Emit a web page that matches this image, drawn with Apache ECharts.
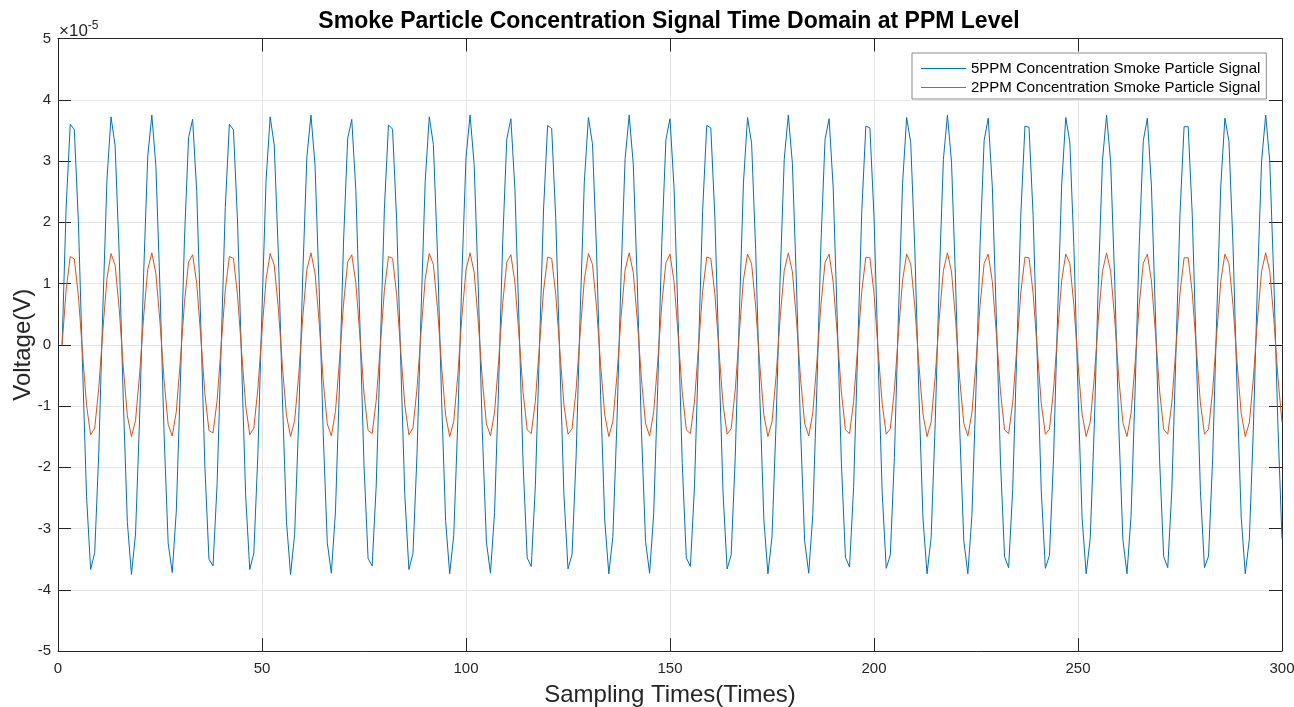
<!DOCTYPE html>
<html>
<head>
<meta charset="utf-8">
<script src="https://cdn.jsdelivr.net/npm/echarts@6/dist/echarts.min.js"></script>
<style>
  html, body { margin: 0; padding: 0; background: #ffffff; }
  #chart { width: 1294px; height: 707px; }
</style>
</head>
<body>
<div id="chart"></div>
<script>
// Sampled smoke-particle signals, samples 1..300, voltage in units of 1e-5 V
const voltage5ppm = [
  0, 2.25, 3.60, 3.51, 2.01, -0.30, -2.48, -3.67, -3.39, -1.75, 0.60, 2.70, 3.72, 3.25, 1.48, -0.89, -2.90, -3.75, -3.09, -1.20, 1.18, 3.08, 3.75, 2.91, 0.91, -1.46, -3.24, -3.72, -2.71, -0.62, 1.73, 3.38, 3.68, 2.50, 0.32, -1.99, -3.50, -3.61, -2.27,
  -0.02, 2.24, 3.60, 3.51, 2.02, -0.28, -2.47, -3.67, -3.40, -1.77, 0.58, 2.69, 3.72, 3.26, 1.50, -0.87, -2.89, -3.75, -3.10, -1.22, 1.16, 3.07, 3.75, 2.93, 0.93, -1.44, -3.23, -3.73, -2.73, -0.64, 1.71, 3.37, 3.68, 2.52, 0.34, -1.97, -3.49, -3.61, -2.29,
  -0.04, 2.22, 3.59, 3.52, 2.04, -0.26, -2.45, -3.67, -3.41, -1.78, 0.56, 2.67, 3.72, 3.27, 1.51, -0.85, -2.87, -3.74, -3.11, -1.24, 1.14, 3.06, 3.75, 2.94, 0.95, -1.42, -3.22, -3.73, -2.74, -0.66, 1.69, 3.36, 3.69, 2.53, 0.36, -1.95, -3.48, -3.62, -2.30,
  -0.06, 2.20, 3.58, 3.53, 2.06, -0.24, -2.44, -3.66, -3.42, -1.80, 0.54, 2.66, 3.71, 3.28, 1.53, -0.83, -2.86, -3.74, -3.13, -1.26, 1.12, 3.04, 3.75, 2.95, 0.97, -1.40, -3.21, -3.73, -2.76, -0.68, 1.67, 3.35, 3.69, 2.55, 0.38, -1.94, -3.48, -3.62, -2.32,
  -0.08, 2.19, 3.58, 3.54, 2.08, -0.22, -2.42, -3.66, -3.43, -1.82, 0.51, 2.64, 3.71, 3.29, 1.55, -0.81, -2.85, -3.74, -3.14, -1.28, 1.10, 3.03, 3.75, 2.96, 0.99, -1.38, -3.20, -3.73, -2.77, -0.70, 1.66, 3.35, 3.69, 2.56, 0.40, -1.92, -3.47, -3.63, -2.33,
  -0.10, 2.17, 3.57, 3.54, 2.09, -0.20, -2.41, -3.65, -3.43, -1.84, 0.49, 2.63, 3.71, 3.30, 1.57, -0.79, -2.83, -3.74, -3.15, -1.29, 1.08, 3.02, 3.75, 2.98, 1.01, -1.36, -3.19, -3.74, -2.79, -0.72, 1.64, 3.34, 3.70, 2.58, 0.42, -1.90, -3.46, -3.64, -2.35,
  -0.12, 2.15, 3.57, 3.55, 2.11, -0.18, -2.39, -3.65, -3.44, -1.86, 0.47, 2.61, 3.71, 3.31, 1.59, -0.77, -2.82, -3.74, -3.16, -1.31, 1.06, 3.01, 3.75, 2.99, 1.03, -1.34, -3.18, -3.74, -2.80, -0.74, 1.62, 3.33, 3.70, 2.59, 0.44, -1.88, -3.46, -3.64, -2.37,
  -0.14, 2.14, 3.56, 3.56, 2.13, -0.16, -2.38, -3.64, -3.45, -1.87, 0.45, 2.60, 3.70, 3.32, 1.61, -0.75, -2.81, -3.74, -3.17, -1.33, 1.04, 3.00, 3.75, 3.00, 1.05, -1.32, -3.17
];

const voltage2ppm = [
  0, 0.90, 1.44, 1.40, 0.80, -0.12, -0.99, -1.47, -1.36, -0.70, 0.24, 1.08, 1.49, 1.30, 0.59, -0.36, -1.16, -1.50, -1.24, -0.48, 0.47, 1.23, 1.50, 1.16, 0.36, -0.58, -1.30, -1.49, -1.09, -0.25, 0.69, 1.35, 1.47, 1.00, 0.13, -0.80, -1.40, -1.44, -0.91,
  -0.01, 0.89, 1.44, 1.41, 0.81, -0.11, -0.99, -1.47, -1.36, -0.71, 0.23, 1.07, 1.49, 1.30, 0.60, -0.35, -1.15, -1.50, -1.24, -0.49, 0.46, 1.23, 1.50, 1.17, 0.37, -0.58, -1.29, -1.49, -1.09, -0.25, 0.68, 1.35, 1.47, 1.01, 0.14, -0.79, -1.40, -1.45, -0.91,
  -0.02, 0.89, 1.44, 1.41, 0.82, -0.10, -0.98, -1.47, -1.36, -0.71, 0.22, 1.07, 1.49, 1.31, 0.61, -0.34, -1.15, -1.50, -1.25, -0.49, 0.46, 1.22, 1.50, 1.18, 0.38, -0.57, -1.29, -1.49, -1.10, -0.26, 0.68, 1.35, 1.47, 1.01, 0.14, -0.78, -1.39, -1.45, -0.92,
  -0.02, 0.88, 1.43, 1.41, 0.82, -0.09, -0.98, -1.46, -1.37, -0.72, 0.21, 1.06, 1.49, 1.31, 0.61, -0.33, -1.14, -1.50, -1.25, -0.50, 0.45, 1.22, 1.50, 1.18, 0.39, -0.56, -1.28, -1.49, -1.10, -0.27, 0.67, 1.34, 1.48, 1.02, 0.15, -0.77, -1.39, -1.45, -0.93,
  -0.03, 0.87, 1.43, 1.41, 0.83, -0.09, -0.97, -1.46, -1.37, -0.73, 0.21, 1.06, 1.48, 1.32, 0.62, -0.32, -1.14, -1.50, -1.26, -0.51, 0.44, 1.21, 1.50, 1.19, 0.40, -0.55, -1.28, -1.49, -1.11, -0.28, 0.66, 1.34, 1.48, 1.02, 0.16, -0.77, -1.39, -1.45, -0.93,
  -0.04, 0.87, 1.43, 1.42, 0.84, -0.08, -0.96, -1.46, -1.37, -0.74, 0.20, 1.05, 1.48, 1.32, 0.63, -0.32, -1.13, -1.50, -1.26, -0.52, 0.43, 1.21, 1.50, 1.19, 0.40, -0.55, -1.28, -1.49, -1.11, -0.29, 0.65, 1.33, 1.48, 1.03, 0.17, -0.76, -1.39, -1.45, -0.94,
  -0.05, 0.86, 1.43, 1.42, 0.84, -0.07, -0.96, -1.46, -1.38, -0.74, 0.19, 1.05, 1.48, 1.33, 0.64, -0.31, -1.13, -1.50, -1.26, -0.53, 0.42, 1.20, 1.50, 1.20, 0.41, -0.54, -1.27, -1.50, -1.12, -0.30, 0.65, 1.33, 1.48, 1.04, 0.18, -0.75, -1.38, -1.46, -0.95,
  -0.06, 0.85, 1.42, 1.42, 0.85, -0.06, -0.95, -1.46, -1.38, -0.75, 0.18, 1.04, 1.48, 1.33, 0.64, -0.30, -1.12, -1.50, -1.27, -0.53, 0.42, 1.20, 1.50, 1.20, 0.42, -0.53, -1.27
];

const seriesNames = [
  '5PPM Concentration Smoke Particle Signal',
  '2PPM Concentration Smoke Particle Signal'
];
const seriesColors = ['#0072BD', '#D95319'];

const titleText = 'Smoke Particle Concentration Signal Time Domain at PPM Level';
const xName = 'Sampling Times(Times)';
const yName = 'Voltage(V)';

// Axis ranges
const xMin = 0, xMax = 300, xStep = 50;
const yMin = -5, yMax = 5, yStep = 1;

const FONT = '"Liberation Sans", Arial, Helvetica, sans-serif';
const INK = '#262626';

// sample numbers start at 1
const toPoints = arr => arr.map((v, i) => [i + 1, v]);

const chart = echarts.init(document.getElementById('chart'), null, { renderer: 'canvas' });

const sharedTick = { show: true, inside: true, length: 13, lineStyle: { color: INK, width: 1 } };
const sharedLine = { show: true, onZero: false, lineStyle: { color: INK, width: 1 } };
// thin horizontal bar used as the legend key
const legendLineIcon = 'path://M0,0L45,0L45,1.2L0,1.2Z';

chart.setOption({
  animation: false,
  backgroundColor: '#ffffff',
  textStyle: { fontFamily: FONT },
  grid: { left: 58, right: 12, top: 38.5, bottom: 56, containLabel: false, outerBoundsMode: 'none' },
  graphic: [
    {
      type: 'text',
      x: 669, y: 10,
      style: {
        text: titleText,
        font: 'bold 23px ' + FONT,
        fill: '#000000',
        align: 'center',
        verticalAlign: 'top',
        textAlign: 'center',
        textVerticalAlign: 'top'
      }
    },
    {
      type: 'text',
      x: 59, y: 20,
      style: {
        text: '{m|×10}{e|-5}',
        rich: {
          m: { fontSize: 17, fontFamily: FONT, fill: INK, verticalAlign: 'bottom', lineHeight: 20 },
          e: { fontSize: 12, fontFamily: FONT, fill: INK, verticalAlign: 'top', padding: [0, 0, 8, 0], lineHeight: 20 }
        },
        fill: INK
      }
    }
  ],
  legend: {
    data: seriesNames.map(n => ({ name: n, icon: legendLineIcon })),
    orient: 'vertical',
    left: 912,
    top: 53,
    padding: [8, 6, 4, 9],
    itemGap: 4,
    itemWidth: 45,
    itemHeight: 15,
    backgroundColor: '#ffffff',
    borderColor: '#8c8c8c',
    borderWidth: 1,
    borderRadius: 0,
    textStyle: { fontSize: 15, color: '#000000', fontFamily: FONT }
  },
  xAxis: [
    {
      type: 'value',
      min: xMin, max: xMax, interval: xStep,
      name: xName,
      nameLocation: 'middle',
      nameGap: 32,
      nameMoveOverlap: false,
      nameTextStyle: { fontSize: 24, color: INK, fontFamily: FONT },
      axisLine: sharedLine,
      axisTick: sharedTick,
      axisLabel: { fontSize: 15, color: INK, margin: 10, fontFamily: FONT },
      splitLine: { show: true, lineStyle: { color: '#e6e6e6', width: 1 } }
    },
    {
      type: 'value',
      position: 'top',
      min: xMin, max: xMax, interval: xStep,
      axisLine: sharedLine,
      axisTick: sharedTick,
      axisLabel: { show: false },
      splitLine: { show: false }
    }
  ],
  yAxis: [
    {
      type: 'value',
      min: yMin, max: yMax, interval: yStep,
      name: yName,
      nameLocation: 'middle',
      nameGap: 23,
      nameMoveOverlap: false,
      nameTextStyle: { fontSize: 24, color: INK, fontFamily: FONT },
      axisLine: sharedLine,
      axisTick: sharedTick,
      axisLabel: { fontSize: 15, color: INK, margin: 7, fontFamily: FONT },
      splitLine: { show: true, lineStyle: { color: '#e6e6e6', width: 1 } }
    },
    {
      type: 'value',
      position: 'right',
      min: yMin, max: yMax, interval: yStep,
      axisLine: sharedLine,
      axisTick: sharedTick,
      axisLabel: { show: false },
      splitLine: { show: false }
    }
  ],
  series: [
    {
      name: seriesNames[0],
      type: 'line',
      xAxisIndex: 0, yAxisIndex: 0,
      data: toPoints(voltage5ppm),
      symbol: 'none',
      lineStyle: { color: seriesColors[0], width: 1 },
      itemStyle: { color: seriesColors[0] },
      z: 3
    },
    {
      name: seriesNames[1],
      type: 'line',
      xAxisIndex: 0, yAxisIndex: 0,
      data: toPoints(voltage2ppm),
      symbol: 'none',
      lineStyle: { color: seriesColors[1], width: 1 },
      itemStyle: { color: seriesColors[1] },
      z: 4
    }
  ]
});
</script>
</body>
</html>
